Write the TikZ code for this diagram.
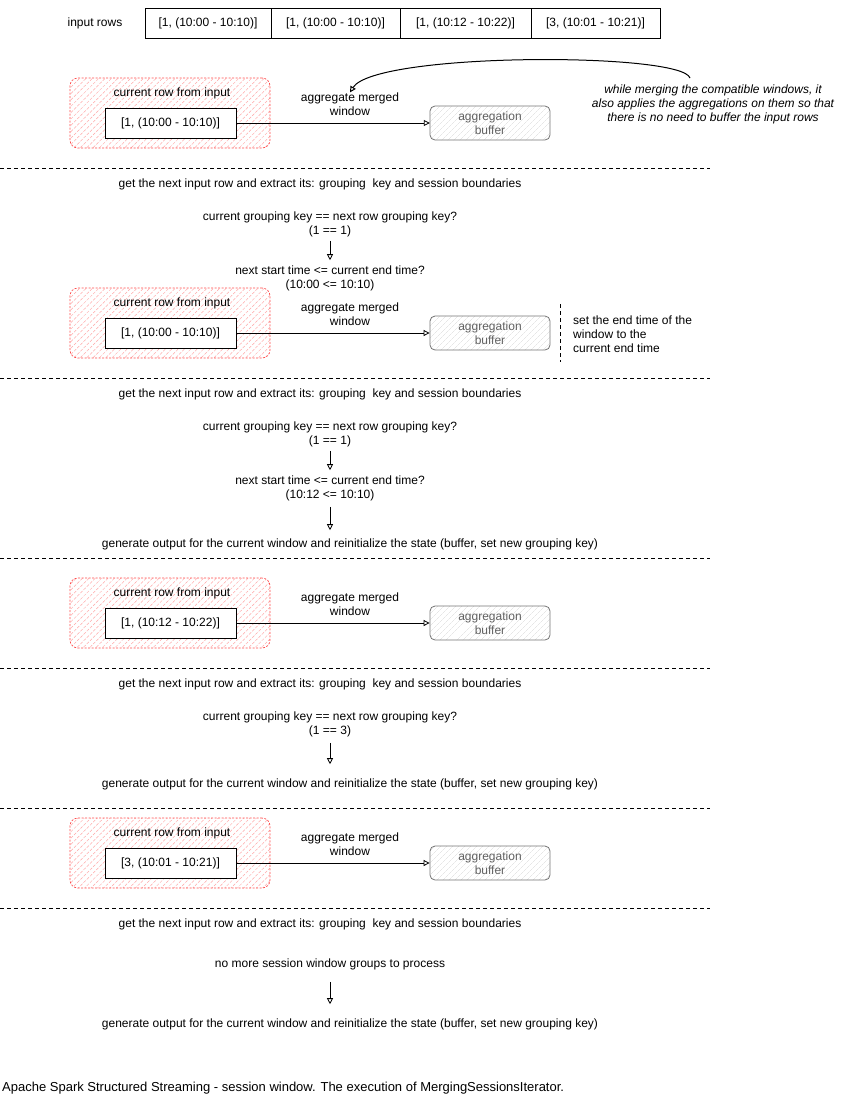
\documentclass[tikz,border=0pt]{standalone}
\usepackage{fontspec}
\setmainfont{Liberation Sans}
\usetikzlibrary{arrows.meta,patterns.meta,calc}
\tikzset{
  txt/.style={font=\fontsize{12}{14}\selectfont, align=center, inner sep=0pt},
  rowbox/.style={draw, line width=0.9pt, minimum width=#1, minimum height=30pt, inner sep=0pt, font=\fontsize{12}{14}\selectfont},
  curbox/.style={draw=red!70, dash pattern=on 2pt off 1.5pt, line width=0.7pt, rounded corners=8pt,
     pattern={Lines[angle=45,distance=4.5pt,line width=0.5pt]}, pattern color=red!35,
     minimum width=200pt, minimum height=70pt, inner sep=0pt},
  innerbox/.style={draw, line width=0.9pt, fill=white, minimum width=131pt, minimum height=30pt, inner sep=0pt, font=\fontsize{12}{14}\selectfont},
  bufbox/.style={draw=gray!90!black, line width=0.8pt, rounded corners=5pt,
     pattern={Lines[angle=45,distance=4pt,line width=0.4pt]}, pattern color=gray!30,
     minimum width=120pt, minimum height=34pt, inner sep=0pt},
  buftxt/.style={txt, text=gray!75!black},
  arr/.style={-{Triangle[open,length=6pt,width=6pt]}, line width=0.8pt},
  sepline/.style={dash pattern=on 4pt off 3pt, line width=0.6pt},
}
\newcommand{\flowblock}[3]{%
  \node[curbox] (red#1) at (170,#2+35) {};
  \node[txt] (cur#1) at (172,#2+15) {current row from input};
  \node[innerbox] (row#1) at (170.5,#2+45) {#3};
  \node[bufbox] (buf#1) at (490,#2+45) {};
  \node[buftxt] (buft#1) at (490,#2+45) {aggregation\\buffer};
  \node[txt] (agg#1) at (350,#2+26) {aggregate merged\\window};
  \draw[arr] (row#1.east) -- (buf#1.west);
}
\begin{document}
\begin{tikzpicture}[x=1pt,y=-1pt]
\useasboundingbox (0,0) rectangle (842,1119);

% input rows
\node[txt] (inlabel) at (95,23) {input rows};
\node[rowbox=126pt] (r1) at (208,23) {[1, (10:00 - 10:10)]};
\node[rowbox=129pt] (r2) at (335.5,23) {[1, (10:00 - 10:10)]};
\node[rowbox=131pt] (r3) at (465.5,23) {[1, (10:12 - 10:22)]};
\node[rowbox=129pt] (r4) at (595.5,23) {[3, (10:01 - 10:21)]};

% block 1
\flowblock{a}{78}{[1, (10:00 - 10:10)]}
\coordinate (ctail) at (690,78);
\draw[arr, line width=1pt] (ctail) .. controls (682,52) and (375,52) .. (agga.north);
\node[txt, font=\fontsize{12}{14}\selectfont\itshape] (note) at (713,104)
  {while merging the compatible windows, it\\also applies the aggregations on them so that\\there is no need to buffer the input rows};

\coordinate (s1a) at (0,168); \coordinate (s1b) at (710,168);
\draw[sepline] (s1a) -- (s1b);
\node[txt] (get1) at (320,184) {get the next input row and extract its: grouping\ \ key and session boundaries};
\node[txt] (q1) at (330,224) {current grouping key == next row grouping key?\\(1 == 1)};
\node[txt] (n1) at (330,278) {next start time <= current end time?\\(10:00 <= 10:10)};
\draw[arr, shorten <=4pt, shorten >=5pt] (q1.south) -- (n1.north);

% block 2
\flowblock{b}{288}{[1, (10:00 - 10:10)]}
\coordinate (v1) at (560,304); \coordinate (v2) at (560,362);
\draw[sepline] (v1) -- (v2);
\node[txt, align=left, anchor=west] (endnote) at (573,334) {set the end time of the\\window to the\\current end time};

\coordinate (s2a) at (0,378); \coordinate (s2b) at (710,378);
\draw[sepline] (s2a) -- (s2b);
\node[txt] (get2) at (320,394) {get the next input row and extract its: grouping\ \ key and session boundaries};
\node[txt] (q2) at (330,434) {current grouping key == next row grouping key?\\(1 == 1)};
\node[txt] (n2) at (330,488) {next start time <= current end time?\\(10:12 <= 10:10)};
\node[txt] (g2) at (350,544) {generate output for the current window and reinitialize the state (buffer, set new grouping key)};
\draw[arr, shorten <=4pt, shorten >=5pt] (q2.south) -- (n2.north);
\draw[arr, shorten <=6pt, shorten >=8pt] (n2.south) -- (n2.south |- g2.north);

\coordinate (s3a) at (0,558); \coordinate (s3b) at (710,558);
\draw[sepline] (s3a) -- (s3b);

% block 3
\flowblock{c}{578}{[1, (10:12 - 10:22)]}

\coordinate (s4a) at (0,668); \coordinate (s4b) at (710,668);
\draw[sepline] (s4a) -- (s4b);
\node[txt] (get3) at (320,684) {get the next input row and extract its: grouping\ \ key and session boundaries};
\node[txt] (q3) at (330,724) {current grouping key == next row grouping key?\\(1 == 3)};
\node[txt] (g3) at (350,784) {generate output for the current window and reinitialize the state (buffer, set new grouping key)};
\draw[arr, shorten <=6pt, shorten >=14pt] (q3.south) -- (q3.south |- g3.north);

\coordinate (s5a) at (0,808); \coordinate (s5b) at (710,808);
\draw[sepline] (s5a) -- (s5b);

% block 4
\flowblock{d}{818}{[3, (10:01 - 10:21)]}

\coordinate (s6a) at (0,908); \coordinate (s6b) at (710,908);
\draw[sepline] (s6a) -- (s6b);
\node[txt] (get4) at (320,924) {get the next input row and extract its: grouping\ \ key and session boundaries};
\node[txt] (nomore) at (330,964) {no more session window groups to process};
\node[txt] (g4) at (350,1024) {generate output for the current window and reinitialize the state (buffer, set new grouping key)};
\draw[arr, shorten <=12pt, shorten >=14pt] (nomore.south) -- (nomore.south |- g4.north);

\node[txt, anchor=west, font=\fontsize{13}{15}\selectfont] (caption) at (2,1088) {Apache Spark Structured Streaming - session window. The execution of MergingSessionsIterator.};
\end{tikzpicture}
\end{document}
